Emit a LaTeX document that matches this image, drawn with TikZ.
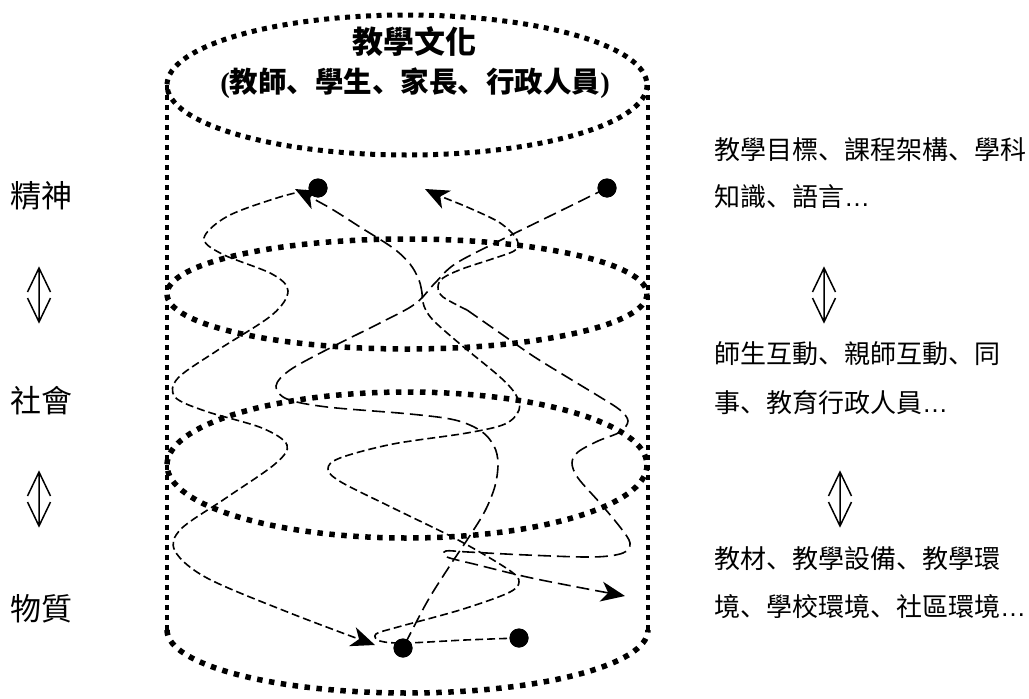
\documentclass[tikz,border=0pt]{standalone}
\usepackage{fontspec}
\setmainfont{Liberation Sans}
\newfontfamily\tcfont{Noto Sans CJK TC}
\newfontfamily\scfont{Noto Sans CJK SC}
\newfontfamily\latserif{Liberation Serif}
\newfontfamily\latsans{Liberation Sans}
\usetikzlibrary{arrows.meta}
\newcommand{\cjkcomma}{{\scfont 、}}
\newcommand{\latdots}{{\latsans …}}
\begin{document}
\begin{tikzpicture}[x=1pt,y=-1pt,
  cylrim/.style={line width=5pt, dash pattern=on 5pt off 5.5pt},
  cylring/.style={line width=5.5pt, dash pattern=on 5.5pt off 6.5pt},
  cylside/.style={line width=4.5pt, dash pattern=on 4.5pt off 5.5pt},
  longdash/.style={line width=1.6pt, dash pattern=on 13pt off 6pt},
  middash/.style={line width=1.6pt, dash pattern=on 8pt off 4pt},
  endarrow/.style={-{Stealth[length=24pt,width=20pt,inset=7pt]}},
  bigdot/.style={circle, fill=black, inner sep=0pt, minimum size=19pt},
  lefttext/.style={font=\tcfont\fontsize{31}{31}\selectfont, inner sep=0pt, anchor=west},
  righttext/.style={font=\tcfont\fontsize{26}{26}\selectfont, inner sep=0pt, anchor=west},
  updown/.pic={\draw[line width=1.5pt] (-11.5,-3) -- (0,-27) -- (11.5,-3) (0,-27) -- (0,27) (-11.5,3) -- (0,27) -- (11.5,3);}
]
\useasboundingbox (0,0) rectangle (1029,699);

% cylinder
\draw[cylrim] (407,85) ellipse [x radius=240, y radius=70];
\draw[cylside] (167,85) -- (167,630);
\draw[cylside] (648,85) -- (648,630);
\draw[cylring] (167,630) arc[start angle=180, end angle=0, x radius=240.5, y radius=63];
\draw[cylring] (407,294) ellipse [x radius=240, y radius=55];
\draw[cylring] (407,465) ellipse [x radius=240, y radius=73];

% titles
\node[font=\tcfont\bfseries\fontsize{31}{31}\selectfont, inner sep=0pt] (title) at (414,42) {教學文化};
\node[font=\tcfont\bfseries\fontsize{28.5}{28.5}\selectfont, inner sep=0pt] (members) at (415,83) {{\latserif(}教師\cjkcomma 學生\cjkcomma 家長\cjkcomma 行政人員{\latserif)}};

% dots and coordinates
\node[bigdot] (D1) at (318,188) {};
\node[bigdot] (D2) at (607,188) {};
\node[bigdot] (D3) at (403,648) {};
\node[bigdot] (D4) at (519,638) {};
\coordinate (A1) at (295,189);
\coordinate (A2) at (425,189);
\coordinate (A3) at (375,645);
\coordinate (A4) at (625,596);
\coordinate (J1) at (422,293);
\coordinate (J2) at (467,310);

% curves
\draw[middash,endarrow] plot[smooth, tension=0.55] coordinates {(D1.center) (280,197) (228,216) (204,238) (222,254) (272,274) (288,291) (272,315) (218,350) (178,378) (175,397) (205,411) (262,428) (287,445) (275,464) (226,498) (181,529) (175,551) (207,578) (290,613) (A3)};

\draw[longdash,endarrow] plot[smooth, tension=0.55] coordinates {(J1) (419,280) (410,264) (393,248) (360,227) (330,208) (A1)};
\draw[middash] plot[smooth, tension=0.55] coordinates {(D4.center) (465,640) (405,643) (380,641) (376,634) (398,627) (460,610) (508,593) (519,582) (509,570) (460,541) (393,508) (341,482) (328,469) (340,458) (393,444) (467,433) (505,424) (519,410) (516,395) (500,377) (460,344) (433,320) (424,306) (J1)};

\draw[longdash] plot[smooth, tension=0.55] coordinates {(D2.center) (550,216) (497,242) (455,264) (435,283) (415,304) (380,323) (330,348) (290,370) (276,386) (287,399) (327,407) (410,414) (455,420) (481,431) (494,446) (498,463) (495,486) (485,511) (469,537) (449,567) (427,602) (D3.center)};

\draw[middash,endarrow] plot[smooth, tension=0.55] coordinates {(J2) (443,297) (438,287) (443,278) (462,269) (492,259) (514,251) (518,243) (512,233) (497,221) (467,207) (440,196) (A2)};
\draw[longdash,endarrow] plot[smooth, tension=0.55] coordinates {(J2) (500,333) (533,356) (567,377) (600,397) (620,410) (628,421) (620,432) (598,441) (578,452) (572,463) (578,478) (600,503) (620,527) (630,543) (623,553) (593,557) (527,555) (468,552) (446,551) (447,557) (478,565) (527,577) (577,587) (A4)};

% redraw dots on top
\fill (D1) circle[radius=9.5pt];
\fill (D2) circle[radius=9.5pt];
\fill (D3) circle[radius=9.5pt];
\fill (D4) circle[radius=9.5pt];

% left labels
\node[lefttext] (spirit) at (10,196) {精神};
\node[lefttext] (social) at (10,401) {社會};
\node[lefttext] (material) at (10,609) {物質};
\pic at (39,295) {updown};
\pic at (39,499) {updown};

% right texts
\node[righttext] (r1) at (714,150) {教學目標\cjkcomma 課程架構\cjkcomma 學科};
\node[righttext] (r2) at (714,197) {知識\cjkcomma 語言\latdots};
\node[righttext] (r3) at (714,354) {師生互動\cjkcomma 親師互動\cjkcomma 同};
\node[righttext] (r4) at (714,403) {事\cjkcomma 教育行政人員\latdots};
\node[righttext] (r5) at (714,559) {教材\cjkcomma 教學設備\cjkcomma 教學環};
\node[righttext] (r6) at (714,607) {境\cjkcomma 學校環境\cjkcomma 社區環境\latdots};
\pic at (824,295) {updown};
\pic at (840,499) {updown};
\end{tikzpicture}
\end{document}
